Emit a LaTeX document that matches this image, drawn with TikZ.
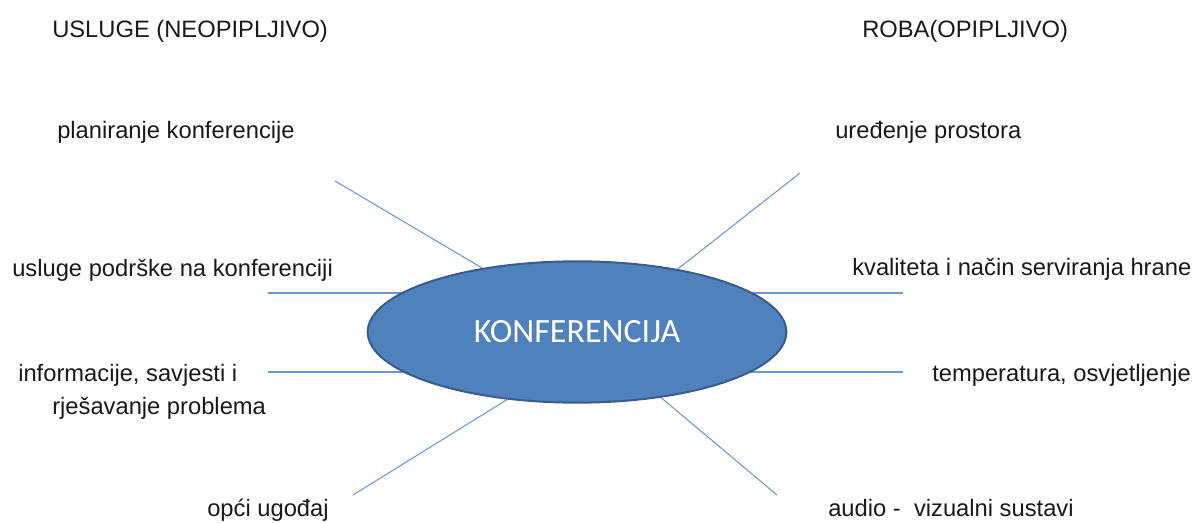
\documentclass[tikz,border=0pt]{standalone}
\usepackage{fontspec}
\setmainfont{Liberation Sans}
\newfontfamily\hubfont{Carlito}
\usetikzlibrary{shapes,positioning,calc,backgrounds}
\definecolor{hubfill}{HTML}{4F81BD}
\definecolor{hubdraw}{HTML}{385D8A}
\definecolor{spokeblue}{HTML}{6B97CC}
\tikzset{
    hub/.style={
        ellipse,
        draw=hubdraw,
        line width=1.5pt,
        fill=hubfill,
        minimum width=314pt,
        minimum height=106pt,
        inner sep=0pt,
        text=white,
        font=\hubfont\fontsize{25.5}{30}\selectfont,
    },
    item/.style={
        anchor=base west,
        inner sep=0pt,
        text=black!90,
        font=\fontsize{17.8}{21}\selectfont,
    },
    spoke/.style={
        draw=spokeblue,
        line width=0.8pt,
    },
}

\begin{document}
\begin{tikzpicture}[x=0.75pt,y=-0.75pt]
    \useasboundingbox (0,0) rectangle (1195,523);

    \node [hub] (konf) at (577,332) {KONFERENCIJA};

    \node [item] (usluge) at (52,38) {USLUGE (NEOPIPLJIVO)};
    \node [item] (roba) at (862,38) {ROBA(OPIPLJIVO)};

    \node [item] (planiranje) at (57,139) {planiranje konferencije};
    \node [item] (podrska) at (12,277) {usluge podrške na konferenciji};
    \node [item] (informacije) at (18,382) {informacije, savjesti i};
    \node [item] (rjesavanje) at (52,415) {rješavanje problema};
    \node [item] (ugodaj) at (207,516) {opći ugođaj};

    \node [item] (uredenje) at (835,139) {uređenje prostora};
    \node [item] (hrana) at (852,276) {kvaliteta i način serviranja hrane};
    \node [item] (temperatura) at (932,382) {temperatura, osvjetljenje};
    \node [item] (audio) at (828,516) {audio -\ \ vizualni sustavi};

    \coordinate (ul) at (335,181);
    \coordinate (lu) at (268,293);
    \coordinate (ld) at (268,372);
    \coordinate (ll) at (353,495);
    \coordinate (ur) at (800,173);
    \coordinate (ru) at (903,293);
    \coordinate (rd) at (903,372);
    \coordinate (lr) at (777,495);

    \begin{pgfonlayer}{background}
        \draw [spoke] (ul) -- (konf.146.7);
        \draw [spoke] (lu) -- (lu -| konf.center);
        \draw [spoke] (ld) -- (ld -| konf.center);
        \draw [spoke] (ll) -- (konf.224.6);
        \draw [spoke] (ur) -- (konf.32.8);
        \draw [spoke] (ru) -- (ru -| konf.center);
        \draw [spoke] (rd) -- (rd -| konf.center);
        \draw [spoke] (lr) -- (konf.322.5);
    \end{pgfonlayer}
\end{tikzpicture}
\end{document}
